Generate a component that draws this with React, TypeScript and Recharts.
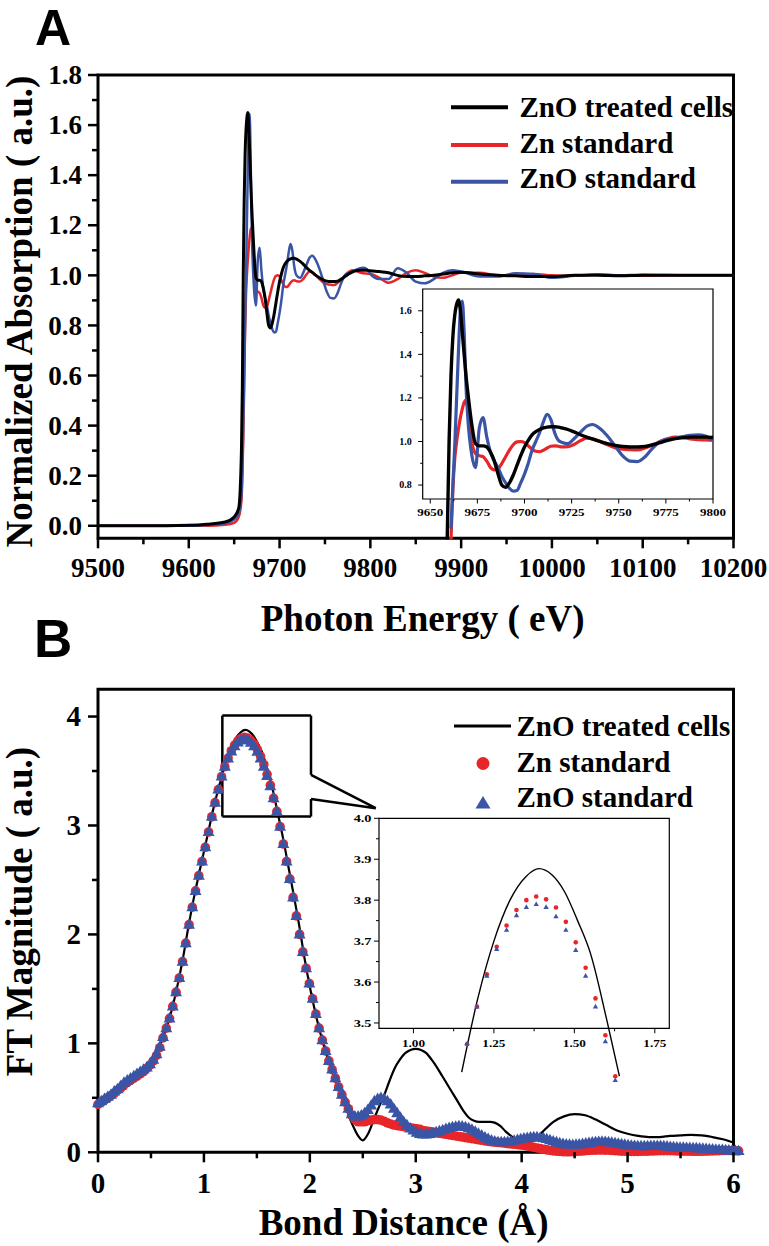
import React from 'react';
import {
  ComposedChart,
  Line,
  Scatter,
  XAxis,
  YAxis,
  ReferenceArea,
  ReferenceLine,
  Legend,
} from 'recharts';

// ---------- Panel A : Zn K-edge XANES ----------
const energyEv = [
  9500, 9550, 9600, 9620, 9640, 9650, 9655, 9658, 9659,
  9660, 9661, 9662, 9663, 9664, 9665, 9666, 9667, 9668, 9669, 9670,
  9672, 9674, 9676, 9678, 9680, 9682, 9684, 9686, 9688, 9690, 9692, 9694, 9696, 9698,
  9700, 9702, 9704, 9706, 9708, 9710, 9712, 9714, 9716, 9718, 9720,
  9723, 9726, 9730, 9733, 9736,
  9740, 9744, 9748, 9752, 9756, 9760, 9764, 9768, 9772, 9776, 9780, 9784, 9788, 9792, 9796, 9800,
  9810, 9820, 9830, 9840, 9850, 9860, 9870, 9880, 9890, 9900,
  9920, 9940, 9960, 9980, 10000, 10025, 10050, 10075, 10100, 10150, 10200,
];
const absTreated = [
  0.0, 0.0, 0.002, 0.006, 0.015, 0.035, 0.07, 0.3, 0.55,
  1.0, 1.3, 1.48, 1.58, 1.63, 1.65, 1.6, 1.5, 1.4, 1.3, 1.22,
  1.08, 0.99, 0.98, 0.98, 0.975, 0.95, 0.91, 0.85, 0.8, 0.79, 0.81, 0.845, 0.89, 0.935,
  0.975, 1.005, 1.03, 1.045, 1.055, 1.062, 1.066, 1.068, 1.068, 1.066, 1.062,
  1.055, 1.045, 1.03, 1.02, 1.012,
  1.0, 0.99, 0.982, 0.977, 0.975, 0.975, 0.977, 0.985, 0.995, 1.005, 1.013, 1.018, 1.02, 1.02, 1.02, 1.018,
  1.015, 1.01, 1.0, 0.995, 0.995, 0.998, 1.0, 1.005, 1.01, 1.012,
  1.005, 1.0, 0.998, 0.995, 0.995, 1.0, 1.0, 0.998, 1.0, 1.0, 1.0,
];
const absZnStd = [
  0.0, 0.0, 0.0, 0.0, 0.004, 0.012, 0.035, 0.1, 0.2,
  0.35, 0.55, 0.78, 0.92, 1.0, 1.06, 1.11, 1.15, 1.18, 1.19, 1.15,
  1.0, 0.945, 0.935, 0.93, 0.91, 0.88, 0.87, 0.875, 0.9, 0.93, 0.96, 0.985, 0.998, 1.0,
  0.995, 0.98, 0.965, 0.955, 0.953, 0.96, 0.97, 0.978, 0.98, 0.978, 0.975,
  0.976, 0.985, 1.005, 1.015, 1.012,
  1.0, 0.985, 0.972, 0.965, 0.962, 0.961, 0.97, 0.984, 1.0, 1.013, 1.02, 1.018, 1.012, 1.008, 1.007, 1.006,
  0.99, 0.97, 0.985, 1.01, 1.02, 1.01, 0.995, 0.99, 1.0, 1.01,
  1.01, 1.0, 0.998, 1.005, 1.0, 0.998, 1.003, 1.0, 0.998, 1.0, 1.0,
];
const absZnOStd = [
  0.0, 0.0, 0.0, 0.003, 0.01, 0.025, 0.05, 0.12, 0.22,
  0.4, 0.6, 0.8, 0.98, 1.2, 1.42, 1.6, 1.645, 1.5, 1.25, 1.1,
  0.94, 0.88, 1.06, 1.11, 1.02, 0.95, 0.91, 0.88, 0.84, 0.81, 0.785, 0.772, 0.775, 0.81,
  0.85, 0.9, 0.96, 1.0, 1.04, 1.09, 1.125, 1.1, 1.04, 1.005, 0.995,
  0.99, 1.01, 1.045, 1.07, 1.078,
  1.06, 1.025, 0.98, 0.935, 0.91, 0.908, 0.93, 0.97, 1.0, 1.01, 1.015, 1.022, 1.028, 1.03, 1.025, 1.005,
  0.985, 0.985, 1.028, 1.01, 0.975, 0.968, 0.985, 1.01, 1.02, 1.015,
  0.995, 0.995, 1.008, 1.005, 0.99, 0.998, 1.003, 1.0, 1.002, 1.0, 1.0,
];

// ---------- Panel B : Fourier transform magnitude ----------
// markers are sampled on the FT grid, one point every 0.0307 Å starting at 0
const ftStepR = 0.0307;
const ftZnStd = [
  0.44, 0.46, 0.48, 0.5, 0.52, 0.54, 0.57, 0.59, 0.62, 0.64,
  0.66, 0.68, 0.7, 0.72, 0.74, 0.77, 0.8, 0.84, 0.89, 0.96,
  1.05, 1.14, 1.23, 1.34, 1.47, 1.6, 1.75, 1.92, 2.09, 2.25,
  2.4, 2.54, 2.67, 2.8, 2.94, 3.08, 3.21, 3.33, 3.448, 3.54,
  3.619, 3.686, 3.738, 3.776, 3.8, 3.809, 3.802, 3.782, 3.747, 3.697,
  3.635, 3.56, 3.47, 3.37, 3.25, 3.13, 2.99, 2.83, 2.67, 2.51,
  2.34, 2.17, 2.0, 1.84, 1.69, 1.55, 1.41, 1.27, 1.14, 1.03,
  0.93, 0.84, 0.76, 0.68, 0.6, 0.53, 0.46, 0.4, 0.34, 0.3,
  0.28, 0.28, 0.28, 0.29, 0.295, 0.3, 0.3, 0.295, 0.285, 0.27,
  0.26, 0.25, 0.245, 0.24, 0.235, 0.23, 0.225, 0.22, 0.215, 0.21,
  0.2, 0.195, 0.19, 0.185, 0.18, 0.175, 0.17, 0.165, 0.16, 0.155,
  0.15, 0.145, 0.14, 0.135, 0.13, 0.125, 0.12, 0.115, 0.11, 0.105,
  0.1, 0.097, 0.093, 0.09, 0.087, 0.084, 0.08, 0.077, 0.074, 0.07,
  0.067, 0.063, 0.058, 0.052, 0.046, 0.04, 0.034, 0.028, 0.022, 0.017,
  0.013, 0.01, 0.008, 0.006, 0.005, 0.005, 0.006, 0.008, 0.01, 0.012,
  0.015, 0.017, 0.019, 0.02, 0.021, 0.021, 0.02, 0.019, 0.017, 0.015,
  0.013, 0.011, 0.01, 0.009, 0.008, 0.008, 0.008, 0.009, 0.01, 0.011,
  0.012, 0.013, 0.014, 0.015, 0.015, 0.015, 0.015, 0.014, 0.013, 0.012,
  0.011, 0.01, 0.01, 0.009, 0.009, 0.009, 0.01, 0.011, 0.012, 0.013,
  0.014, 0.015, 0.016, 0.016, 0.016, 0.015, 0.014, 0.013,
];
const ftZnOStd = [
  0.45, 0.47, 0.49, 0.51, 0.53, 0.56, 0.58, 0.61, 0.64, 0.66,
  0.68, 0.7, 0.72, 0.74, 0.76, 0.78, 0.81, 0.85, 0.9, 0.97,
  1.06, 1.14, 1.23, 1.34, 1.47, 1.6, 1.75, 1.92, 2.09, 2.25,
  2.4, 2.54, 2.67, 2.8, 2.94, 3.08, 3.21, 3.33, 3.45, 3.54,
  3.615, 3.68, 3.727, 3.763, 3.783, 3.79, 3.783, 3.76, 3.727, 3.678,
  3.615, 3.54, 3.455, 3.36, 3.25, 3.13, 2.99, 2.83, 2.67, 2.51,
  2.34, 2.17, 2.0, 1.84, 1.69, 1.55, 1.41, 1.27, 1.14, 1.03,
  0.93, 0.84, 0.76, 0.68, 0.6, 0.53, 0.46, 0.4, 0.35, 0.33,
  0.33, 0.34, 0.36, 0.39, 0.43, 0.47, 0.49, 0.5, 0.49, 0.47,
  0.44, 0.4, 0.36, 0.32, 0.28, 0.25, 0.22, 0.2, 0.18, 0.17,
  0.165, 0.165, 0.17, 0.175, 0.185, 0.195, 0.205, 0.215, 0.225, 0.232,
  0.237, 0.24, 0.238, 0.232, 0.222, 0.208, 0.19, 0.172, 0.155, 0.138,
  0.123, 0.11, 0.1, 0.095, 0.093, 0.094, 0.097, 0.102, 0.108, 0.115,
  0.122, 0.128, 0.133, 0.137, 0.139, 0.139, 0.136, 0.13, 0.122, 0.112,
  0.102, 0.093, 0.085, 0.078, 0.073, 0.07, 0.069, 0.07, 0.073, 0.077,
  0.082, 0.087, 0.091, 0.095, 0.097, 0.098, 0.097, 0.094, 0.09, 0.085,
  0.08, 0.075, 0.07, 0.066, 0.063, 0.06, 0.058, 0.057, 0.057, 0.058,
  0.059, 0.06, 0.06, 0.059, 0.057, 0.054, 0.051, 0.048, 0.046, 0.044,
  0.043, 0.042, 0.041, 0.04, 0.038, 0.036, 0.034, 0.032, 0.03, 0.028,
  0.026, 0.024, 0.022, 0.02, 0.018, 0.016, 0.014, 0.012,
];
const ftTreatedR = [
  0, 0.1, 0.2, 0.3, 0.4, 0.5, 0.55, 0.6, 0.65, 0.7, 0.75, 0.8, 0.85, 0.9, 0.95,
  1.0, 1.05, 1.1, 1.15, 1.2, 1.25, 1.3, 1.35, 1.39, 1.43, 1.47, 1.51, 1.55, 1.6, 1.64,
  1.7, 1.75, 1.8, 1.85, 1.9, 1.95, 2.0, 2.05, 2.1, 2.15, 2.2, 2.25, 2.3, 2.35, 2.4, 2.45,
  2.5, 2.55, 2.6, 2.65, 2.7, 2.75, 2.8, 2.85, 2.9, 2.95, 3.0, 3.05, 3.1, 3.15, 3.2, 3.25,
  3.3, 3.35, 3.4, 3.45, 3.5, 3.55, 3.6, 3.65, 3.7, 3.75, 3.8, 3.85, 3.9, 3.95, 4.0, 4.05,
  4.1, 4.15, 4.2, 4.3, 4.4, 4.5, 4.6, 4.7, 4.8, 4.9, 5.0, 5.1, 5.2, 5.3, 5.4, 5.5, 5.6,
  5.7, 5.8, 5.9, 6.0,
];
const ftTreated = [
  0.45, 0.51, 0.6, 0.68, 0.74, 0.82, 0.89, 1.02, 1.15, 1.32, 1.53, 1.77, 2.05, 2.31, 2.54,
  2.76, 2.98, 3.2, 3.38, 3.56, 3.7, 3.8, 3.858, 3.877, 3.862, 3.82, 3.75, 3.67, 3.51, 3.37,
  3.1, 2.87, 2.61, 2.35, 2.08, 1.78, 1.52, 1.29, 1.09, 0.92, 0.77, 0.63, 0.5, 0.38, 0.26, 0.16,
  0.11, 0.17, 0.29, 0.41, 0.52, 0.65, 0.77, 0.85, 0.91, 0.94, 0.95, 0.94, 0.91, 0.85, 0.78, 0.7,
  0.62, 0.54, 0.46, 0.38, 0.32, 0.29, 0.28, 0.28, 0.28, 0.27, 0.24, 0.19, 0.15, 0.11, 0.09, 0.08,
  0.1, 0.14, 0.19, 0.28, 0.33, 0.35, 0.34, 0.3, 0.25, 0.2, 0.17, 0.15, 0.14, 0.14, 0.15, 0.155, 0.16,
  0.155, 0.14, 0.12, 0.09,
];

// ---------- ticks ----------
const xTicksA = [9500, 9550, 9600, 9650, 9700, 9750, 9800, 9850, 9900, 9950, 10000, 10050, 10100, 10150, 10200];
const yTicksA = [0, 0.1, 0.2, 0.3, 0.4, 0.5, 0.6, 0.7, 0.8, 0.9, 1.0, 1.1, 1.2, 1.3, 1.4, 1.5, 1.6, 1.7, 1.8];
const xTicksInsetA = [9650, 9662.5, 9675, 9687.5, 9700, 9712.5, 9725, 9737.5, 9750, 9762.5, 9775, 9787.5, 9800];
const yTicksInsetA = [0.8, 0.9, 1.0, 1.1, 1.2, 1.3, 1.4, 1.5, 1.6];
const xTicksB = [0, 0.5, 1, 1.5, 2, 2.5, 3, 3.5, 4, 4.5, 5, 5.5, 6];
const yTicksB = [0, 0.5, 1, 1.5, 2, 2.5, 3, 3.5, 4];
const xTicksInsetB = [1, 1.125, 1.25, 1.375, 1.5, 1.625, 1.75];
const yTicksInsetB = [3.5, 3.55, 3.6, 3.65, 3.7, 3.75, 3.8, 3.85, 3.9, 3.95, 4.0];

const seriesNames = ['ZnO treated cells', 'Zn standard', 'ZnO standard'];
const C_BLACK = '#000000';
const C_RED = '#e8262a';
const C_BLUE = '#3a55a5';

const SERIF = '"Liberation Serif", "Times New Roman", serif';
const SANS = '"Liberation Sans", Arial, sans-serif';
const serifStyle = { fontFamily: SERIF, fontWeight: 700 } as const;

// ---------- rows ----------
const xanesRows = energyEv.map((e, i) => ({
  e,
  treated: absTreated[i],
  zn: absZnStd[i],
  zno: absZnOStd[i],
}));
const insetA = xanesRows.filter((r) => r.e >= 9646 && r.e <= 9800);
// the inset traces run out of the inset box and stop at the main frame
const insetTreated = insetA.filter((r) => r.treated >= 0.54);
const insetZn = insetA.filter((r) => r.zn >= 0.54);
const insetZnO = insetA.filter((r) => r.zno >= 0.54);

const znRows = ftZnStd.map((v, i) => ({ r: +(i * ftStepR).toFixed(4), v }));
const znoRows = ftZnOStd.map((v, i) => ({ r: +(i * ftStepR).toFixed(4), v }));
const treatedRows = ftTreatedR.map((r, i) => ({ r, v: ftTreated[i] }));
const insetZnB = znRows.filter((d) => d.r >= 1.16 && d.r <= 1.63);
const insetZnOB = znoRows.filter((d) => d.r >= 1.16 && d.r <= 1.63);
const insetTreatedB = treatedRows.filter((d) => d.r >= 1.14 && d.r <= 1.65);

// zoom box + pointer in panel B (data coords)
const boxB = { x1: 1.174, x2: 2.011, y1: 3.082, y2: 4.009 };
const pointerB = { yTop: 3.465, yBot: 3.242, tipX: 2.622, tipY: 3.159 };

type TickCfg = {
  side: 'bottom' | 'left';
  isMajor: (v: number) => boolean;
  format: (v: number) => string;
  majorLen: number;
  minorLen: number;
  strokeWidth: number;
  fontSize: number;
  offset: number;
  stretch?: number;
};

function renderTick(props: any, cfg: TickCfg) {
  const { x, y, payload } = props;
  const v = payload.value as number;
  const major = cfg.isMajor(v);
  const len = major ? cfg.majorLen : cfg.minorLen;
  const s = cfg.stretch ?? 1;
  const textStyle = { ...serifStyle, fontSize: cfg.fontSize };
  if (cfg.side === 'bottom') {
    return (
      <g>
        <line x1={x} y1={y} x2={x} y2={y + len} stroke="#000" strokeWidth={cfg.strokeWidth} />
        {major && (
          <text
            transform={`translate(${x},${y + cfg.offset}) scale(${s},1)`}
            textAnchor="middle"
            style={textStyle}
            fill="#000"
          >
            {cfg.format(v)}
          </text>
        )}
      </g>
    );
  }
  return (
    <g>
      <line x1={x - len} y1={y} x2={x} y2={y} stroke="#000" strokeWidth={cfg.strokeWidth} />
      {major && (
        <text
          transform={`translate(${x - cfg.offset},${y + cfg.fontSize * 0.34}) scale(${s},1)`}
          textAnchor="end"
          style={textStyle}
          fill="#000"
        >
          {cfg.format(v)}
        </text>
      )}
    </g>
  );
}

const circleShape = (r: number, fill: string) => (p: any) =>
  p.cx == null ? <g /> : <circle cx={p.cx} cy={p.cy} r={r} fill={fill} />;
const triangleShape = (s: number, fill: string) => (p: any) =>
  p.cx == null ? (
    <g />
  ) : (
    <path
      d={`M${p.cx},${p.cy - s} L${p.cx + s * 0.95},${p.cy + s * 0.65} L${p.cx - s * 0.95},${p.cy + s * 0.65} Z`}
      fill={fill}
    />
  );

const legendStyle = { ...serifStyle, fontSize: 29 };

function LegendA() {
  return (
    <svg width={769} height={200} style={{ overflow: 'visible' }}>
      <line x1={451} x2={508} y1={107.3} y2={107.3} stroke={C_BLACK} strokeWidth={4} />
      <line x1={451} x2={508} y1={145} y2={145} stroke={C_RED} strokeWidth={4} />
      <line x1={451} x2={508} y1={181.7} y2={181.7} stroke={C_BLUE} strokeWidth={4} />
      <text x={519.4} y={117.3} style={legendStyle}>{seriesNames[0]}</text>
      <text x={519.4} y={153.3} style={legendStyle}>{seriesNames[1]}</text>
      <text x={519.4} y={188.3} style={legendStyle}>{seriesNames[2]}</text>
    </svg>
  );
}

function LegendB() {
  // chart B starts 640px down the page
  const o = 640;
  return (
    <svg width={769} height={200} style={{ overflow: 'visible' }}>
      <line x1={454} x2={511} y1={726 - o} y2={726 - o} stroke={C_BLACK} strokeWidth={3} />
      <circle cx={483} cy={763.5 - o} r={6.5} fill={C_RED} />
      <path d={`M483,${796 - o} L490.5,${808.5 - o} L475.5,${808.5 - o} Z`} fill={C_BLUE} />
      <text x={516.5} y={736 - o} style={legendStyle}>{seriesNames[0]}</text>
      <text x={516.5} y={772 - o} style={legendStyle}>{seriesNames[1]}</text>
      <text x={516.5} y={807 - o} style={legendStyle}>{seriesNames[2]}</text>
    </svg>
  );
}

const legendWrap = { position: 'absolute' as const, left: 0, top: 0, width: 769, height: 200 };

const mainTick = (side: 'bottom' | 'left', isMajor: (v: number) => boolean, format: (v: number) => string, fontSize: number, offset: number) =>
  (p: any) =>
    renderTick(p, { side, isMajor, format, majorLen: 10, minorLen: 6, strokeWidth: 2.5, fontSize, offset });

const titleStyle = { ...serifStyle, fontSize: 37 };
const letterStyle = { fontFamily: SANS, fontWeight: 700 } as const;

export default function App() {
  return (
    <div style={{ position: 'relative', width: 769, height: 1246, background: '#fff' }}>
      <style>{`
        body { margin: 0; }
        .no-clip [clip-path] { clip-path: none !important; }
        .no-clip svg.recharts-surface { overflow: visible; }
      `}</style>

      {/* Panel A main */}
      <div style={{ position: 'absolute', left: 0, top: 0 }}>
        <ComposedChart width={769} height={640} data={xanesRows} margin={{ top: 75, right: 35.5, left: 38, bottom: 71.7 }}>
          <XAxis
            type="number"
            dataKey="e"
            domain={[9500, 10200]}
            ticks={xTicksA}
            interval={0}
            allowDataOverflow
            axisLine={false}
            tickLine={false}
            tickSize={0}
            tickMargin={0}
            height={30}
            tick={mainTick('bottom', (v) => v % 100 === 0, (v) => String(v), 27, 38.4)}
          />
          <YAxis
            type="number"
            domain={[-0.05, 1.8]}
            ticks={yTicksA}
            interval={0}
            allowDataOverflow
            axisLine={false}
            tickLine={false}
            tickSize={0}
            tickMargin={0}
            width={60}
            tick={mainTick('left', (v) => Math.round(v * 10) % 2 === 0, (v) => v.toFixed(1), 27, 16)}
          />
          <ReferenceArea x1={9500} x2={10200} y1={-0.05} y2={1.8} fill="none" stroke="#000" strokeWidth={3} ifOverflow="visible" />
          <Line type="monotone" dataKey="zn" name={seriesNames[1]} stroke={C_RED} strokeWidth={2.5} dot={false} activeDot={false} isAnimationActive={false} />
          <Line type="monotone" dataKey="zno" name={seriesNames[2]} stroke={C_BLUE} strokeWidth={2.5} dot={false} activeDot={false} isAnimationActive={false} />
          <Line type="monotone" dataKey="treated" name={seriesNames[0]} stroke={C_BLACK} strokeWidth={3} dot={false} activeDot={false} isAnimationActive={false} />
          <Legend verticalAlign="middle" layout="horizontal" wrapperStyle={legendWrap} content={() => <LegendA />} />
        </ComposedChart>
      </div>

      {/* Panel A inset */}
      <div className="no-clip" style={{ position: 'absolute', left: 380, top: 270 }}>
        <ComposedChart width={345} height={280} margin={{ top: 19, right: 12, left: 12.7, bottom: 31 }}>
          <XAxis
            type="number"
            dataKey="e"
            domain={[9646, 9800]}
            ticks={xTicksInsetA}
            interval={0}
            allowDataOverflow
            axisLine={false}
            tickLine={false}
            tickSize={0}
            tickMargin={0}
            height={20}
            tick={(p: any) =>
              renderTick(p, {
                side: 'bottom', isMajor: (v) => v % 25 === 0, format: (v) => String(v),
                majorLen: 4.5, minorLen: 2.5, strokeWidth: 1, fontSize: 10, offset: 16.7, stretch: 1.3,
              })
            }
          />
          <YAxis
            type="number"
            domain={[0.736, 1.7]}
            ticks={yTicksInsetA}
            interval={0}
            allowDataOverflow
            axisLine={false}
            tickLine={false}
            tickSize={0}
            tickMargin={0}
            width={30}
            tick={(p: any) =>
              renderTick(p, {
                side: 'left', isMajor: (v) => Math.round(v * 10) % 2 === 0, format: (v) => v.toFixed(1),
                majorLen: 4.5, minorLen: 2.5, strokeWidth: 1, fontSize: 10, offset: 11, stretch: 1,
              })
            }
          />
          <ReferenceArea x1={9646} x2={9800} y1={0.736} y2={1.7} fill="none" stroke="#000" strokeWidth={1.2} ifOverflow="visible" />
          <Line data={insetZn} type="monotone" dataKey="zn" stroke={C_RED} strokeWidth={3.2} dot={false} activeDot={false} isAnimationActive={false} />
          <Line data={insetZnO} type="monotone" dataKey="zno" stroke={C_BLUE} strokeWidth={3.2} dot={false} activeDot={false} isAnimationActive={false} />
          <Line data={insetTreated} type="monotone" dataKey="treated" stroke={C_BLACK} strokeWidth={3.4} dot={false} activeDot={false} isAnimationActive={false} />
        </ComposedChart>
      </div>

      {/* Panel B main */}
      <div className="no-clip" style={{ position: 'absolute', left: 0, top: 640 }}>
        <ComposedChart width={769} height={606} margin={{ top: 49.3, right: 35.5, left: 38, bottom: 63.7 }}>
          <XAxis
            type="number"
            dataKey="r"
            domain={[0, 6]}
            ticks={xTicksB}
            interval={0}
            allowDataOverflow
            axisLine={false}
            tickLine={false}
            tickSize={0}
            tickMargin={0}
            height={30}
            tick={mainTick('bottom', (v) => Number.isInteger(v), (v) => String(v), 29, 41)}
          />
          <YAxis
            type="number"
            domain={[0, 4.25]}
            ticks={yTicksB}
            interval={0}
            allowDataOverflow
            axisLine={false}
            tickLine={false}
            tickSize={0}
            tickMargin={0}
            width={60}
            tick={mainTick('left', (v) => Number.isInteger(v), (v) => String(v), 29, 17)}
          />
          <ReferenceArea x1={0} x2={6} y1={0} y2={4.25} fill="none" stroke="#000" strokeWidth={3} ifOverflow="visible" />
          <Line data={treatedRows} type="monotone" dataKey="v" name={seriesNames[0]} stroke={C_BLACK} strokeWidth={2.2} dot={false} activeDot={false} isAnimationActive={false} />
          <Scatter data={znRows} dataKey="v" name={seriesNames[1]} shape={circleShape(4.8, C_RED)} isAnimationActive={false} />
          <Scatter data={znoRows} dataKey="v" name={seriesNames[2]} shape={triangleShape(6.3, C_BLUE)} isAnimationActive={false} />
          <ReferenceLine segment={[{ x: boxB.x1, y: boxB.y2 }, { x: boxB.x2, y: boxB.y2 }]} stroke="#000" strokeWidth={2.5} ifOverflow="visible" />
          <ReferenceLine segment={[{ x: boxB.x2, y: boxB.y2 }, { x: boxB.x2, y: pointerB.yTop }]} stroke="#000" strokeWidth={2.5} ifOverflow="visible" />
          <ReferenceLine segment={[{ x: boxB.x2, y: pointerB.yTop }, { x: pointerB.tipX, y: pointerB.tipY }]} stroke="#000" strokeWidth={2.5} ifOverflow="visible" />
          <ReferenceLine segment={[{ x: pointerB.tipX, y: pointerB.tipY }, { x: boxB.x2, y: pointerB.yBot }]} stroke="#000" strokeWidth={2.5} ifOverflow="visible" />
          <ReferenceLine segment={[{ x: boxB.x2, y: pointerB.yBot }, { x: boxB.x2, y: boxB.y1 }]} stroke="#000" strokeWidth={2.5} ifOverflow="visible" />
          <ReferenceLine segment={[{ x: boxB.x2, y: boxB.y1 }, { x: boxB.x1, y: boxB.y1 }]} stroke="#000" strokeWidth={2.5} ifOverflow="visible" />
          <ReferenceLine segment={[{ x: boxB.x1, y: boxB.y1 }, { x: boxB.x1, y: boxB.y2 }]} stroke="#000" strokeWidth={2.5} ifOverflow="visible" />
          <Legend verticalAlign="middle" layout="horizontal" wrapperStyle={legendWrap} content={() => <LegendB />} />
        </ComposedChart>
      </div>

      {/* Panel B inset */}
      <div className="no-clip" style={{ position: 'absolute', left: 330, top: 800 }}>
        <ComposedChart width={360} height={260} margin={{ top: 18.3, right: 20.7, left: 19, bottom: 11.7 }}>
          <XAxis
            type="number"
            dataKey="r"
            domain={[0.893, 1.795]}
            ticks={xTicksInsetB}
            interval={0}
            allowDataOverflow
            axisLine={false}
            tickLine={false}
            tickSize={0}
            tickMargin={0}
            height={20}
            tick={(p: any) =>
              renderTick(p, {
                side: 'bottom', isMajor: (v) => Math.round(v * 1000) % 250 === 0, format: (v) => v.toFixed(2),
                majorLen: 5, minorLen: 3, strokeWidth: 1, fontSize: 11, offset: 18.4, stretch: 1.2,
              })
            }
          />
          <YAxis
            type="number"
            domain={[3.487, 4.0]}
            ticks={yTicksInsetB}
            interval={0}
            allowDataOverflow
            axisLine={false}
            tickLine={false}
            tickSize={0}
            tickMargin={0}
            width={30}
            tick={(p: any) =>
              renderTick(p, {
                side: 'left', isMajor: (v) => Math.round(v * 100) % 10 === 0, format: (v) => v.toFixed(1),
                majorLen: 5, minorLen: 3, strokeWidth: 1, fontSize: 11, offset: 7.5, stretch: 1.3,
              })
            }
          />
          <ReferenceArea x1={0.893} x2={1.795} y1={3.487} y2={4.0} fill="none" stroke="#000" strokeWidth={1.2} ifOverflow="visible" />
          <Line data={insetTreatedB} type="monotone" dataKey="v" stroke={C_BLACK} strokeWidth={1.4} dot={false} activeDot={false} isAnimationActive={false} />
          <Scatter data={insetZnB} dataKey="v" shape={circleShape(2.3, C_RED)} isAnimationActive={false} />
          <Scatter data={insetZnOB} dataKey="v" shape={triangleShape(2.8, C_BLUE)} isAnimationActive={false} />
        </ComposedChart>
      </div>

      {/* panel letters and axis titles */}
      <svg width={769} height={1246} style={{ position: 'absolute', left: 0, top: 0, pointerEvents: 'none' }}>
        <text x={35} y={45} style={{ ...letterStyle, fontSize: 50 }}>A</text>
        <text x={34} y={657} style={{ ...letterStyle, fontSize: 53 }}>B</text>
        <text transform="translate(32,311.5) rotate(-90)" textAnchor="middle" style={titleStyle}>
          Normalized Absorption ( a.u.)
        </text>
        <text x={422.6} y={631} textAnchor="middle" style={titleStyle}>
          Photon Energy ( eV)
        </text>
        <text transform="translate(32,911.5) rotate(-90)" textAnchor="middle" style={titleStyle}>
          FT Magnitude ( a.u.)
        </text>
        <text x={403.6} y={1235} textAnchor="middle" style={titleStyle}>
          Bond Distance (Å)
        </text>
      </svg>
    </div>
  );
}
